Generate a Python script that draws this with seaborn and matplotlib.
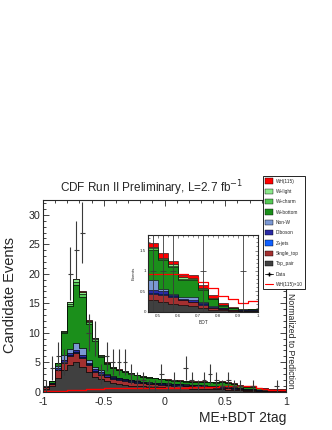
import numpy as np
import pandas as pd
import matplotlib
matplotlib.use("Agg")
import matplotlib.pyplot as plt
import seaborn as sns
from matplotlib.patches import Patch
from matplotlib.lines import Line2D

# ---- main distribution: ME+BDT 2tag, 40 bins from -1 to 1 ----
top_pair = [0.5, 1.0, 2.4, 3.6, 4.5, 5.0, 4.2, 3.4, 2.5, 2.1,
            1.8, 1.4, 1.25, 1.15, 1.05, 0.95, 0.9, 0.85, 0.8, 0.75,
            0.7, 0.65, 0.6, 0.55, 0.5, 0.5, 0.45, 0.42, 0.4, 0.38,
            0.35, 0.3, 0.25, 0.2, 0.17, 0.12, 0.08, 0.05, 0.04, 0.03]
single_top = [0.25, 0.3, 1.2, 1.3, 1.5, 1.5, 1.5, 1.1, 0.9, 0.8,
              0.65, 0.75, 0.7, 0.65, 0.6, 0.55, 0.5, 0.45, 0.45, 0.4,
              0.4, 0.4, 0.4, 0.4, 0.4, 0.35, 0.35, 0.33, 0.3, 0.27,
              0.25, 0.2, 0.15, 0.12, 0.1, 0.08, 0.06, 0.04, 0.03, 0.02]
z_jets = [0.02, 0.05, 0.13, 0.15, 0.2, 0.2, 0.2, 0.13, 0.13, 0.13,
          0.12, 0.1, 0.12, 0.1, 0.1, 0.1, 0.08, 0.08, 0.08, 0.08,
          0.08, 0.08, 0.08, 0.08, 0.08, 0.08, 0.08, 0.08, 0.08, 0.08,
          0.08, 0.07, 0.05, 0.04, 0.04, 0.03, 0.02, 0.01, 0.01, 0.01]
diboson = [0.03, 0.1, 0.27, 0.35, 0.4, 0.4, 0.4, 0.27, 0.27, 0.27,
           0.23, 0.2, 0.23, 0.2, 0.2, 0.2, 0.17, 0.17, 0.15, 0.17,
           0.17, 0.17, 0.17, 0.17, 0.17, 0.17, 0.17, 0.17, 0.17, 0.17,
           0.17, 0.13, 0.1, 0.09, 0.07, 0.05, 0.04, 0.03, 0.02, 0.02]
non_w = [0.05, 0.05, 0.3, 0.8, 0.7, 1.2, 1.1, 0.5, 0.4, 0.3,
         0.2, 0.15, 0.1, 0.1, 0.1, 0.08, 0.07, 0.07, 0.06, 0.06,
         0.05, 0.05, 0.05, 0.05, 0.05, 0.05, 0.05, 0.05, 0.05, 0.05,
         0.05, 0.04, 0.03, 0.02, 0.02, 0.02, 0.01, 0.01, 0.01, 0.01]
w_bottom = [0.17, 0.26, 0.53, 3.72, 7.17, 9.8, 8.7, 6.06, 4.42, 2.32,
            1.76, 1.4, 1.22, 1.13, 1.0, 0.87, 0.8, 0.75, 0.73, 0.62,
            0.57, 0.53, 0.48, 0.48, 0.48, 0.52, 0.57, 0.52, 0.56, 0.64,
            0.59, 0.51, 0.38, 0.34, 0.37, 0.3, 0.27, 0.2, 0.22, 0.24]
w_charm = [0.01, 0.02, 0.03, 0.2, 0.39, 0.54, 0.48, 0.33, 0.24, 0.13,
           0.1, 0.08, 0.07, 0.06, 0.05, 0.05, 0.04, 0.04, 0.04, 0.03,
           0.03, 0.03, 0.03, 0.03, 0.03, 0.03, 0.03, 0.03, 0.03, 0.04,
           0.03, 0.03, 0.02, 0.02, 0.02, 0.02, 0.01, 0.01, 0.01, 0.01]
w_light = [0.01, 0.01, 0.02, 0.16, 0.31, 0.43, 0.38, 0.27, 0.19, 0.1,
           0.08, 0.06, 0.05, 0.05, 0.04, 0.04, 0.03, 0.03, 0.03, 0.03,
           0.03, 0.02, 0.02, 0.02, 0.02, 0.02, 0.02, 0.02, 0.02, 0.03,
           0.03, 0.02, 0.02, 0.02, 0.02, 0.01, 0.01, 0.01, 0.01, 0.01]
wh = [0.01, 0.01, 0.02, 0.02, 0.03, 0.03, 0.04, 0.04, 0.05, 0.05,
      0.06, 0.06, 0.06, 0.06, 0.06, 0.06, 0.06, 0.06, 0.06, 0.06,
      0.07, 0.07, 0.07, 0.07, 0.07, 0.08, 0.08, 0.08, 0.09, 0.09,
      0.1, 0.1, 0.1, 0.1, 0.09, 0.07, 0.05, 0.04, 0.03, 0.03]
wh_x10 = [0.1, 0.12, 0.15, 0.2, 0.25, 0.3, 0.35, 0.4, 0.45, 0.5,
          0.55, 0.6, 0.6, 0.62, 0.62, 0.62, 0.6, 0.6, 0.6, 0.62,
          0.65, 0.68, 0.7, 0.7, 0.72, 0.75, 0.78, 0.8, 0.85, 0.9,
          0.95, 1.0, 1.0, 0.95, 0.9, 0.7, 0.5, 0.35, 0.3, 0.3]
data = [1, 4, 6, 5, 20, 24, 27, 10, 9, 3,
        6, 5, 5, 5, 3, 2, 2, 1, 1, 3,
        1, 2, 1, 4, 2, 1, 2, 3, 2, 1,
        2, 1, 1, 0, 1, 0, 0, 0, 1, 0]

# ---- inset: BDT output, 11 bins from 0.45 to 1 ----
in_top_pair = [0.28, 0.24, 0.2, 0.16, 0.14, 0.09, 0.05, 0.03, 0.02, 0.01, 0.01]
in_single_top = [0.16, 0.16, 0.16, 0.12, 0.1, 0.08, 0.04, 0.03, 0.02, 0.01, 0.01]
in_z_jets = [0.03, 0.04, 0.02, 0.01, 0.01, 0.02, 0.01, 0.01, 0.005, 0.005, 0.005]
in_diboson = [0.05, 0.06, 0.04, 0.03, 0.03, 0.03, 0.02, 0.01, 0.005, 0.005, 0.005]
in_non_w = [0.25, 0.05, 0.02, 0.04, 0.08, 0.02, 0.01, 0.01, 0.0, 0.0, 0.0]
in_w_bottom = [0.74, 0.71, 0.66, 0.41, 0.41, 0.28, 0.17, 0.06, 0.04, 0.02, 0.03]
in_w_charm = [0.04, 0.03, 0.03, 0.04, 0.03, 0.03, 0.02, 0.01, 0.005, 0.003, 0.003]
in_w_light = [0.04, 0.03, 0.03, 0.03, 0.03, 0.03, 0.02, 0.01, 0.005, 0.002, 0.002]
in_wh = [0.1, 0.11, 0.08, 0.07, 0.06, 0.07, 0.06, 0.04, 0.02, 0.005, 0.005]
in_wh_x10 = [0.92, 0.92, 0.92, 0.92, 0.84, 0.72, 0.57, 0.39, 0.3, 0.21, 0.27]
in_data = [1, 1, 1, 0, 0, 1, 0, 0, 0, 1, 0]

# stacking order, bottom to top
names = ["Top_pair", "Single_top", "Z+jets", "Diboson", "Non-W",
         "W+bottom", "W+charm", "W+light", "WH(115)"]
colors = ["#404040", "#a33030", "#1060ff", "#2a2aa5", "#7b98d4",
          "#1b8f1b", "#55c855", "#8be88b", "#ff0000"]

sns.set_style("ticks")
plt.rcParams["font.family"] = ["Liberation Sans", "DejaVu Sans"]
plt.rcParams["axes.unicode_minus"] = False


def hist_line(ax, edges, values, **kws):
    centers = (edges[:-1] + edges[1:]) / 2
    df = pd.DataFrame({"x": centers, "w": np.asarray(values, dtype=float)})
    sns.histplot(data=df, x="x", weights="w", bins=list(edges),
                 element="step", ax=ax, **kws)
    return centers


def draw_stack(ax, edges, layers, lw):
    cum = np.cumsum(np.array(layers, dtype=float), axis=0)
    for heights, color in zip(cum[::-1], colors[::-1]):
        centers = hist_line(ax, edges, heights, fill=True, color=color,
                            alpha=1, edgecolor="black", linewidth=lw)
    return centers


def draw_data(ax, centers, counts, halfwidth, lw):
    counts = np.array(counts, dtype=float)
    m = counts > 0
    ax.errorbar(centers[m], counts[m], xerr=halfwidth, yerr=np.sqrt(counts[m]),
                fmt="none", ecolor="#3a3a3a", elinewidth=lw, capsize=0, zorder=5)


fig = plt.figure(figsize=(3.32, 4.3), dpi=100)
ax = fig.add_axes([43 / 332, 1 - 391.7 / 430, 243 / 332, 192.2 / 430])

edges = np.linspace(-1, 1, 41)
centers = draw_stack(ax, edges, [top_pair, single_top, z_jets, diboson, non_w,
                                 w_bottom, w_charm, w_light, wh], 0.5)
hist_line(ax, edges, wh_x10, fill=False, color="red", linewidth=1.0)
draw_data(ax, centers, data, 0.02, 0.8)

ax.set_xlim(-1, 1)
ax.set_ylim(0, 32.6)
ax.set_xlabel("")
ax.set_ylabel("")
ax.set_xticks([-1, -0.5, 0, 0.5, 1])
ax.set_xticklabels(["-1", "-0.5", "0", "0.5", "1"])
ax.set_xticks(np.arange(-1, 1.01, 0.1), minor=True)
ax.set_yticks([0, 5, 10, 15, 20, 25, 30])
ax.set_yticks(np.arange(0, 33, 1), minor=True)
ax.tick_params(which="both", direction="in", top=True, right=True,
               labelsize=7.7, width=0.6, pad=2)
ax.tick_params(axis="x", pad=3.5)
ax.tick_params(which="major", length=4)
ax.tick_params(which="minor", length=2)
for s in ax.spines.values():
    s.set_linewidth(0.8)

fig.text(152 / 332, 1 - 192 / 430, "CDF Run II Preliminary, L=2.7 fb$^{-1}$",
         ha="center", va="baseline", fontsize=8.5)
fig.text(10 / 332, 1 - 295 / 430, "Candidate Events", rotation=90,
         ha="center", va="center", fontsize=10.5)
fig.text(286 / 332, 1 - 422 / 430, "ME+BDT 2tag", ha="right", va="baseline",
         fontsize=10)
fig.text(291 / 332, 1 - 293 / 430, "Normalized to Prediction", rotation=-90,
         ha="center", va="top", fontsize=6.3)

# ---- inset ----
axi = fig.add_axes([148.3 / 332, 1 - 311.7 / 430, 110 / 332, 76.7 / 430])
in_edges = np.linspace(0.45, 1.0, 12)
in_centers = draw_stack(axi, in_edges, [in_top_pair, in_single_top, in_z_jets,
                                        in_diboson, in_non_w, in_w_bottom,
                                        in_w_charm, in_w_light, in_wh], 0.4)
hist_line(axi, in_edges, in_wh_x10, fill=False, color="red", linewidth=0.9)
draw_data(axi, in_centers, in_data, 0.015, 0.6)
axi.set_xlim(0.45, 1.0)
axi.set_ylim(0, 1.88)
axi.set_xticks([0.5, 0.6, 0.7, 0.8, 0.9, 1.0])
axi.set_xticklabels(["0.5", "0.6", "0.7", "0.8", "0.9", "1"])
axi.set_xticks(np.arange(0.45, 1.001, 0.025), minor=True)
axi.set_yticks([0, 0.5, 1, 1.5])
axi.set_yticklabels(["0", "0.5", "1", "1.5"])
axi.set_yticks(np.arange(0, 1.88, 0.1), minor=True)
axi.tick_params(which="both", direction="in", top=True, right=True,
                labelsize=3.2, width=0.4, pad=1.5)
axi.tick_params(which="major", length=2.5)
axi.tick_params(which="minor", length=1.2)
axi.set_xlabel("BDT", fontsize=3.5, labelpad=1.5)
axi.set_ylabel("Events", fontsize=3.2, labelpad=3)
for s in axi.spines.values():
    s.set_linewidth(0.8)

# ---- legend ----
handles = [Patch(facecolor=c, edgecolor="black", linewidth=0.3, label=n)
           for n, c in zip(names[::-1], colors[::-1])]
handles.append(Line2D([], [], color="black", marker="+", lw=0.6,
                      markersize=3, label="Data"))
handles.append(Line2D([], [], color="red", lw=0.8, label="WH(115)×10"))
leg = fig.legend(handles=handles, loc="upper left",
                 bbox_to_anchor=(263 / 332, 1 - 176 / 430), fontsize=3.4,
                 frameon=True, fancybox=False, edgecolor="black",
                 framealpha=1, borderaxespad=0, handlelength=1.7,
                 handleheight=1.3, labelspacing=1.1, handletextpad=0.45,
                 borderpad=0.5)
leg.get_frame().set_linewidth(0.6)

fig.savefig("out.png", dpi=100, facecolor="white")
